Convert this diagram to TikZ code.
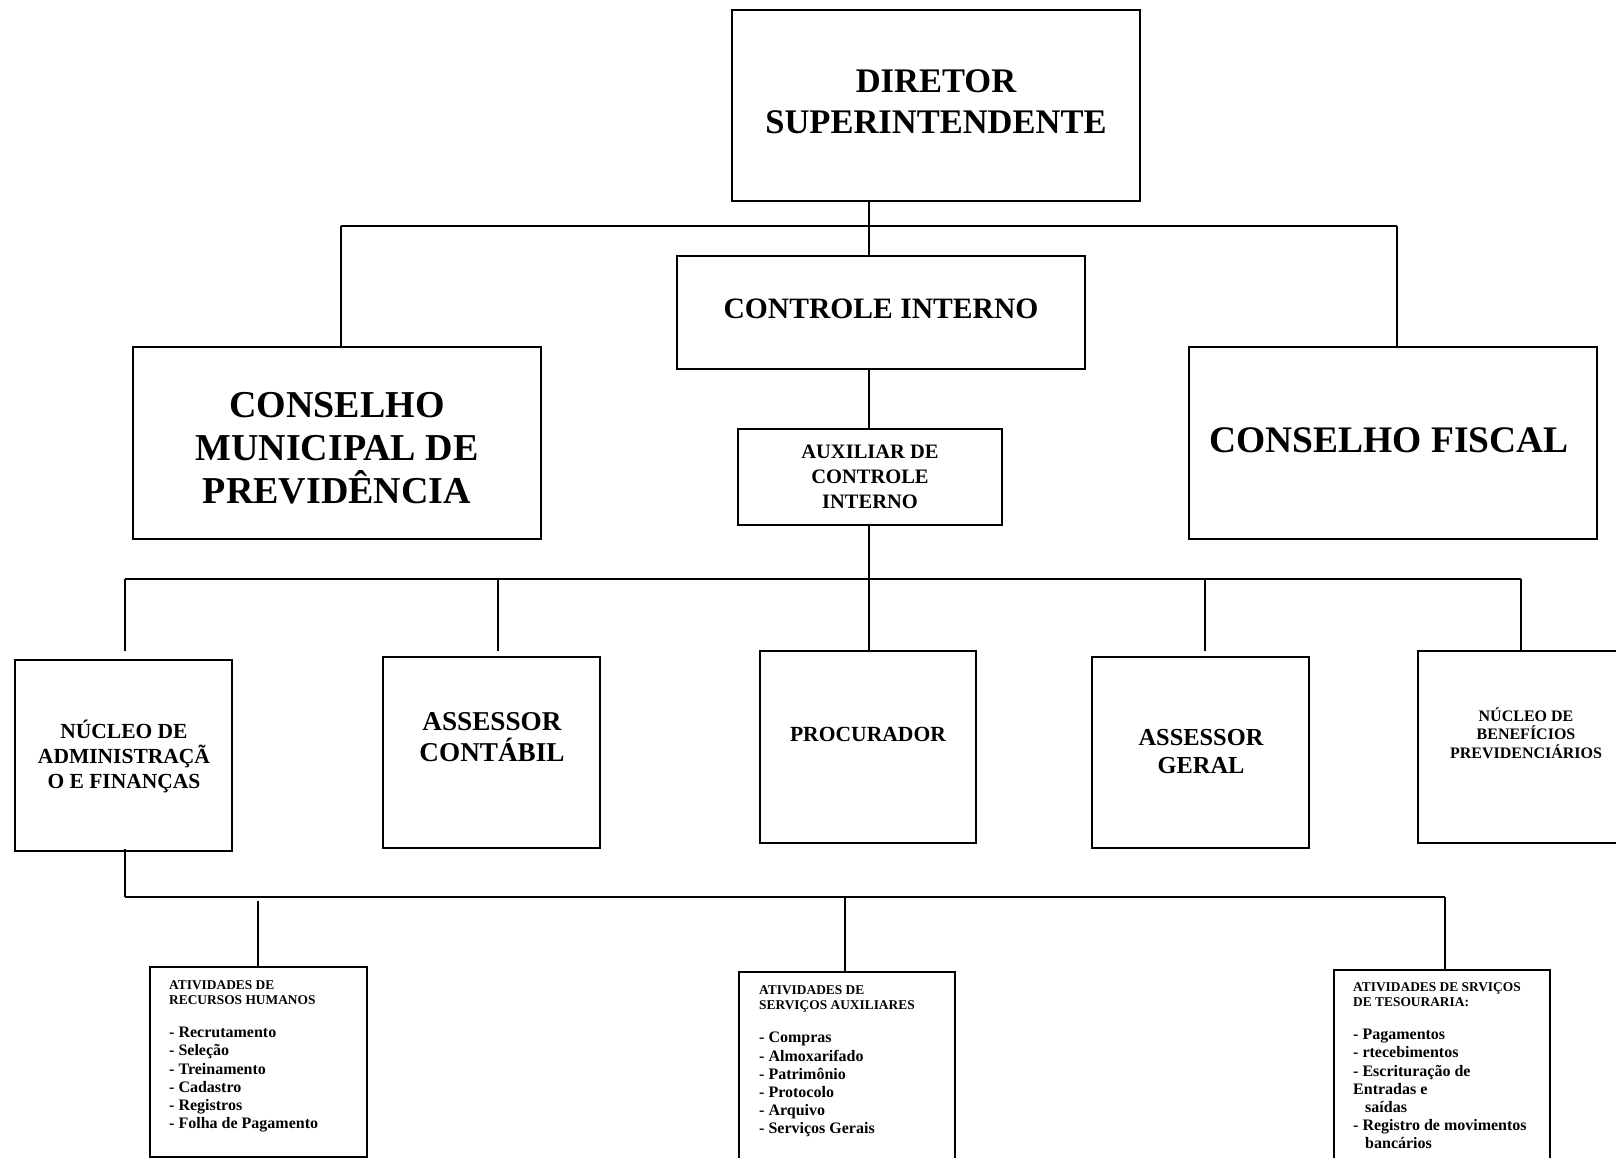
\documentclass[tikz,border=0pt]{standalone}
\usepackage{fontspec}
\setmainfont{Liberation Serif}
\begin{document}
\begin{tikzpicture}[x=1pt,y=-1pt,
  box/.style={draw, line width=1.6pt, inner sep=0pt},
  txt/.style={align=center, inner sep=0pt, font=\bfseries},
  lst/.style={align=left, inner sep=0pt, anchor=north west, font=\bfseries},
  conn/.style={line width=1.6pt}]
\useasboundingbox (0,0) rectangle (1616,1158);
% --- top level boxes
\node[box, minimum width=408pt, minimum height=191pt] (dir) at (936,105.5) {};
\node[txt, font=\bfseries\fontsize{34.5}{41}\selectfont] (dirt) at (936,102) {DIRETOR\\SUPERINTENDENTE};
\node[box, minimum width=408pt, minimum height=113pt] (ci) at (881,312.5) {};
\node[txt, font=\bfseries\fontsize{29.6}{36}\selectfont] (cit) at (881,309) {CONTROLE INTERNO};
\node[box, minimum width=408pt, minimum height=192pt] (cmp) at (337,443) {};
\node[txt, font=\bfseries\fontsize{38}{43}\selectfont] (cmpt) at (337,448) {CONSELHO\\MUNICIPAL DE\\PREVIDÊNCIA};
\node[box, minimum width=408pt, minimum height=192pt] (cf) at (1393,443) {};
\node[txt, font=\bfseries\fontsize{37.5}{43}\selectfont] (cft) at (1389,440) {CONSELHO FISCAL};
\node[box, minimum width=264pt, minimum height=96pt] (aux) at (870,477) {};
\node[txt, font=\bfseries\fontsize{20.5}{25}\selectfont] (auxt) at (870,477) {AUXILIAR DE\\CONTROLE\\INTERNO};
% --- second level
\node[box, minimum width=217pt, minimum height=191pt] (naf) at (123.5,755.5) {};
\node[txt, font=\bfseries\fontsize{21.5}{25}\selectfont] (naft) at (124,756) {NÚCLEO DE\\ADMINISTRAÇÃ\\O E FINANÇAS};
\node[box, minimum width=217pt, minimum height=191pt] (ac) at (491.5,752.5) {};
\node[txt, font=\bfseries\fontsize{27.2}{31}\selectfont] (act) at (492,737) {ASSESSOR\\CONTÁBIL};
\node[box, minimum width=216pt, minimum height=192pt] (proc) at (868,747) {};
\node[txt, font=\bfseries\fontsize{21.6}{26}\selectfont] (proct) at (868,734) {PROCURADOR};
\node[box, minimum width=217pt, minimum height=191pt] (ag) at (1200.5,752.5) {};
\node[txt, font=\bfseries\fontsize{24.4}{28}\selectfont] (agt) at (1201,752) {ASSESSOR\\GERAL};
\node[box, minimum width=216pt, minimum height=192pt] (nbp) at (1526,747) {};
\node[txt, font=\bfseries\fontsize{16}{18.5}\selectfont] (nbpt) at (1526,733) {NÚCLEO DE\\BENEFÍCIOS\\PREVIDENCIÁRIOS};
% --- third level
\node[box, minimum width=217pt, minimum height=190pt, anchor=north west] (rh) at (149,966) {};
\node[lst, font=\bfseries\fontsize{13.4}{15.5}\selectfont] (rhh) at ([xshift=20pt,yshift=-14pt]rh.north west) {ATIVIDADES DE\\RECURSOS HUMANOS};
\node[lst, font=\bfseries\fontsize{16}{18.2}\selectfont] (rhl) at ([xshift=20pt,yshift=-61pt]rh.north west) {- Recrutamento\\- Seleção\\- Treinamento\\- Cadastro\\- Registros\\- Folha de Pagamento};
\node[box, minimum width=216pt, minimum height=200pt, anchor=north west] (sa) at (738,971) {};
\node[lst, font=\bfseries\fontsize{13.4}{15.5}\selectfont] (sah) at ([xshift=21pt,yshift=-14pt]sa.north west) {ATIVIDADES DE\\SERVIÇOS AUXILIARES};
\node[lst, font=\bfseries\fontsize{16}{18.2}\selectfont] (sal) at ([xshift=21pt,yshift=-61pt]sa.north west) {- Compras\\- Almoxarifado\\- Patrimônio\\- Protocolo\\- Arquivo\\- Serviços Gerais};
\node[box, minimum width=216pt, minimum height=200pt, anchor=north west] (tes) at (1333,969) {};
\node[lst, font=\bfseries\fontsize{13.4}{15.5}\selectfont] (tesh) at ([xshift=20pt,yshift=-13pt]tes.north west) {ATIVIDADES DE SRVIÇOS\\DE TESOURARIA:};
\node[lst, font=\bfseries\fontsize{16}{18.2}\selectfont] (tesl) at ([xshift=20pt,yshift=-60pt]tes.north west) {- Pagamentos\\- rtecebimentos\\- Escrituração de\\Entradas e\\\hspace*{12pt}saídas\\- Registro de movimentos\\\hspace*{12pt}bancários};
% --- connector coordinates
\coordinate (j1) at (869,226);
\coordinate (jl) at (341,226);
\coordinate (jr) at (1397,226);
\coordinate (b1) at (869,579);
\coordinate (bl) at (125,579);
\coordinate (br) at (1521,579);
\coordinate (bac) at (498,579);
\coordinate (bag) at (1205,579);
\coordinate (e1) at (125,651);
\coordinate (e2) at (498,651);
\coordinate (e4) at (1205,651);
\coordinate (c0) at (125,897);
\coordinate (c1) at (258,897);
\coordinate (c2) at (845,897);
\coordinate (c3) at (1445,897);
% --- connectors
\draw[conn] (dir.south -| j1) -- (ci.north -| j1);
\draw[conn] (jl) -- (jr);
\draw[conn] (jl) -- (cmp.north -| jl);
\draw[conn] (jr) -- (cf.north -| jr);
\draw[conn] (ci.south -| j1) -- (aux.north -| j1);
\draw[conn] (aux.south -| b1) -- (b1);
\draw[conn] (bl) -- (br);
\draw[conn] (bl) -- (e1);
\draw[conn] (bac) -- (e2);
\draw[conn] (b1) -- (proc.north -| b1);
\draw[conn] (bag) -- (e4);
\draw[conn] (br) -- (nbp.north -| br);
\draw[conn] ([yshift=3pt]naf.south -| c0) -- (c0);
\draw[conn] (c0) -- (c3);
\draw[conn] ([yshift=-4pt]c1) -- (rh.north -| c1);
\draw[conn] (c2) -- (sa.north -| c2);
\draw[conn] (c3) -- (tes.north -| c3);
\end{tikzpicture}
\end{document}
